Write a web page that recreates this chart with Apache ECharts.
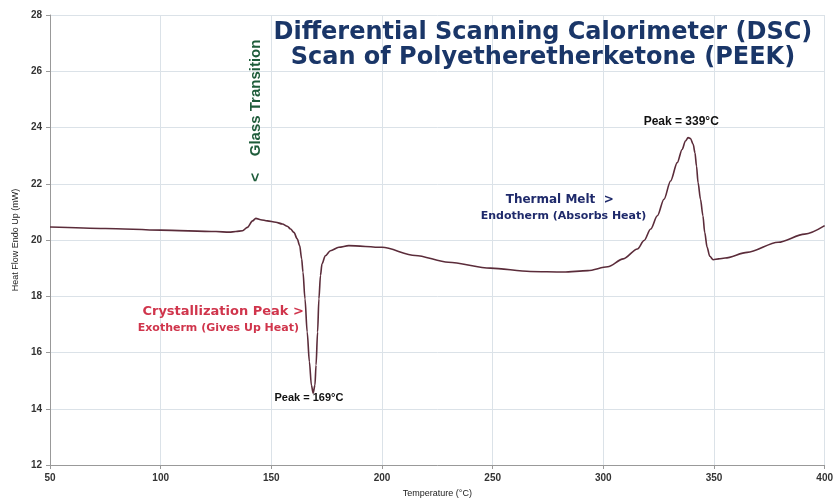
<!DOCTYPE html>
<html>
<head>
<meta charset="utf-8">
<script src="https://cdn.jsdelivr.net/npm/echarts@6/dist/echarts.min.js"></script>
<style>
html,body{margin:0;padding:0;background:#fff;}
#c{width:836px;height:503px;}
</style>
</head>
<body>
<div id="c"></div>
<script>
var temps = [50, 75, 100, 125, 131, 134, 137, 139.2, 141.5, 143, 145.2, 148.2, 152, 155, 157.2, 158.7, 160.2, 161.7, 162.8, 163.7, 164.3, 165.2, 166.2, 167.2, 168.1, 168.9, 169.7, 170.2, 170.9, 171.5, 172.2, 172.9, 174.4, 176.7, 180.5, 185, 200, 215, 230, 249, 267, 282, 293, 302, 309, 315.4, 318.4, 321.4, 324.4, 327.4, 330.4, 333.4, 335.6, 337.1, 338.3, 339.4, 340.6, 341.4, 342.1, 342.8, 343.9, 345, 345.8, 346.9, 348.1, 349.6, 352.1, 355, 365, 379, 391, 400];
var heatFlow = [20.46, 20.41, 20.35, 20.3, 20.28, 20.3, 20.33, 20.45, 20.68, 20.77, 20.72, 20.68, 20.63, 20.57, 20.49, 20.39, 20.27, 20.04, 19.8, 19.33, 18.86, 17.91, 16.73, 15.67, 14.84, 14.55, 14.84, 15.55, 16.73, 17.91, 18.74, 19.15, 19.44, 19.62, 19.74, 19.8, 19.74, 19.45, 19.21, 19.0, 18.88, 18.86, 18.91, 19.05, 19.33, 19.68, 19.98, 20.39, 20.86, 21.45, 22.1, 22.75, 23.22, 23.52, 23.64, 23.61, 23.4, 23.1, 22.63, 22.04, 21.45, 20.86, 20.27, 19.74, 19.42, 19.3, 19.33, 19.36, 19.56, 19.92, 20.21, 20.51];
var xTicks = {min: 50, max: 400, interval: 50};
var yTicks = {min: 12, max: 28, interval: 2};

var chart = echarts.init(document.getElementById('c'));
var pts = temps.map(function (t, i) { return [t, heatFlow[i]]; });
var ff = 'Liberation Sans, Arial, sans-serif';
var fd = 'DejaVu Sans, sans-serif';
var tickLabel = {color: '#333', fontSize: 10, fontWeight: 'bold', fontFamily: ff};
chart.setOption({
  animation: false,
  backgroundColor: '#fff',
  grid: {left: 50, right: 8, top: 15, bottom: 36},
  xAxis: {
    type: 'value', min: xTicks.min, max: xTicks.max, interval: xTicks.interval,
    name: 'Temperature (°C)', nameLocation: 'middle', nameGap: 24,
    nameTextStyle: {color: '#222', fontSize: 9, fontFamily: ff},
    axisLine: {lineStyle: {color: '#999'}},
    axisTick: {show: true, length: 4, lineStyle: {color: '#999'}},
    axisLabel: Object.assign({margin: 8}, tickLabel),
    splitLine: {show: true, lineStyle: {color: '#dbe2e8', width: 1}}
  },
  yAxis: {
    type: 'value', min: yTicks.min, max: yTicks.max, interval: yTicks.interval,
    name: 'Heat Flow Endo Up (mW)', nameLocation: 'middle', nameGap: 28,
    nameTextStyle: {color: '#222', fontSize: 9, fontFamily: ff},
    axisLine: {show: true, lineStyle: {color: '#999'}},
    axisTick: {show: true, length: 4, lineStyle: {color: '#999'}},
    axisLabel: Object.assign({margin: 8}, tickLabel),
    splitLine: {show: true, lineStyle: {color: '#dbe2e8', width: 1}}
  },
  series: [{
    type: 'line', data: pts, showSymbol: false, smooth: 0.3, smoothMonotone: 'x',
    lineStyle: {color: '#5b2c3a', width: 1.6}
  }]
});

function px(x, y) { return chart.convertToPixel({gridIndex: 0}, [x, y]); }
function txt(p, text, font, fill, align) {
  return {type: 'text', x: p[0], y: p[1], style: {text: text, font: font, fill: fill, align: align || 'center', verticalAlign: 'middle'}};
}
var tPos = px(272.7, 26.92);
var gPos = px(143, 24.6);
var g = [
  {type: 'text', x: tPos[0], y: tPos[1], style: {text: 'Differential Scanning Calorimeter (DSC)\nScan of Polyetheretherketone (PEEK)', font: 'bold 24px ' + fd, fill: '#1a3668', align: 'center', verticalAlign: 'middle', lineHeight: 25}},
  {type: 'text', x: gPos[0], y: gPos[1], rotation: Math.PI / 2, style: {text: '<    Glass Transition', font: 'bold 15px ' + ff, fill: '#1e5c3a', align: 'center', verticalAlign: 'middle'}},
  txt(px(164.7, 17.45), 'Crystallization Peak >', 'bold 13px ' + fd, '#d0354c', 'right'),
  txt(px(162.5, 16.85), 'Exotherm (Gives Up Heat)', 'bold 11px ' + fd, '#d0354c', 'right'),
  txt(px(167, 14.37), 'Peak = 169°C', 'bold 11px ' + ff, '#111'),
  txt(px(280.3, 21.42), 'Thermal Melt  >', 'bold 12px ' + fd, '#1f2a6b'),
  txt(px(282, 20.85), 'Endotherm (Absorbs Heat)', 'bold 11px ' + fd, '#1f2a6b'),
  txt(px(335.2, 24.2), 'Peak = 339°C', 'bold 12px ' + ff, '#111')
];
chart.setOption({graphic: g});
</script>
</body>
</html>
